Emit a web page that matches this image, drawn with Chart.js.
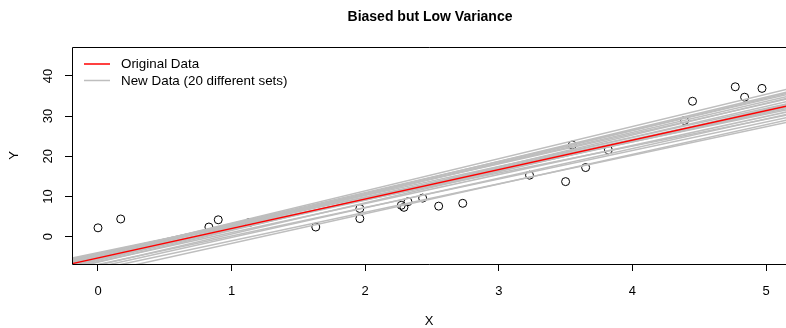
<!DOCTYPE html>
<html>
<head>
<meta charset="utf-8">
<script src="https://cdn.jsdelivr.net/npm/chart.js@4.4.1/dist/chart.umd.min.js"></script>
<style>
  html, body { margin: 0; padding: 0; background: #fff; }
  #wrap { width: 786px; height: 328px; }
</style>
</head>
<body>
<div id="wrap"><canvas id="plot" width="786" height="328"></canvas></div>
<script>
// tick labels
var xTicks = [0, 1, 2, 3, 4, 5];
var yTicks = [0, 10, 20, 30, 40];

var pointX = [0.00, 0.17, 0.83, 0.90, 1.13, 1.63, 1.96, 1.96, 2.27, 2.29, 2.32, 2.43,
              2.55, 2.73, 3.23, 3.50, 3.55, 3.65, 3.82, 4.39, 4.45, 4.77, 4.84, 4.97];
var pointY = [2.2, 4.4, 2.4, 4.2, 3.5, 2.4, 7.0, 4.5, 7.8, 7.3, 8.7, 9.6,
              7.6, 8.3, 15.3, 13.7, 22.8, 17.2, 21.6, 28.9, 33.7, 37.3, 34.7, 36.9];

// fitted line on the original data
var origIntercept = -5.3;
var origSlope = 7.33;

// fitted lines on the 20 new data sets
var newIntercepts = [-3.96, -4.19, -4.34, -4.49, -4.64, -4.20, -4.90, -5.24, -5.57, -5.90,
                     -6.19, -6.36, -6.92, -7.09, -7.56, -8.12, -9.06, -5.10, -4.50, -5.64];
var newSlopes = [6.89, 7.22, 7.48, 7.73, 8.01, 6.68, 7.71, 7.99, 7.33, 7.67,
                 7.22, 7.91, 7.09, 7.75, 7.37, 7.09, 7.39, 7.17, 7.17, 8.01];

var titleText = 'Biased but Low Variance';
var legendLabels = ['Original Data', 'New Data (20 different sets)'];

var FONT = 'Liberation Sans, Arial, Helvetica, sans-serif';
var RED = '#ff0000';
var GRAY = '#bebebe';

function fitLine(a, b){
  return [-0.5, 5.5].map(function(x){ return {x: x, y: a + b * x}; });
}

var datasets = [];
datasets.push({
  type: 'line', label: legendLabels[0], data: fitLine(origIntercept, origSlope),
  borderColor: RED, borderWidth: 1.3, pointRadius: 0, showLine: true, order: 0
});
for (var i = 0; i < newIntercepts.length; i++) {
  datasets.push({
    type: 'line', label: legendLabels[1], data: fitLine(newIntercepts[i], newSlopes[i]),
    borderColor: GRAY, borderWidth: 1.5, pointRadius: 0, showLine: true, order: 1
  });
}
datasets.push({
  type: 'scatter', label: 'points',
  data: pointX.map(function(x, k){ return {x: x, y: pointY[k]}; }),
  borderColor: '#000', backgroundColor: 'rgba(0,0,0,0)', borderWidth: 1,
  pointRadius: 4, pointHoverRadius: 4, order: 2
});

// R style title over the plot region, box (right side is cut off) and legend
var rDecor = {
  id: 'rDecor',
  afterDatasetsDraw: function(chart){
    var ctx = chart.ctx, a = chart.chartArea;
    ctx.save();
    ctx.strokeStyle = '#000';
    ctx.lineWidth = 1;
    ctx.beginPath();
    ctx.moveTo(a.right + 1, a.top + 0.5);
    ctx.lineTo(a.left + 0.5, a.top + 0.5);
    ctx.lineTo(a.left + 0.5, a.bottom + 0.5);
    ctx.lineTo(a.right + 1, a.bottom + 0.5);
    ctx.stroke();

    ctx.fillStyle = '#000';
    ctx.textAlign = 'center';
    ctx.textBaseline = 'middle';
    ctx.font = 'bold 14px ' + FONT;
    ctx.fillText(titleText, (a.left + a.right) / 2 + 1, 17);

    var rows = [{label: legendLabels[0], color: RED},
                {label: legendLabels[1], color: GRAY}];
    ctx.font = '13.4px ' + FONT;
    ctx.textAlign = 'left';
    rows.forEach(function(r, k){
      var y = a.top + 17 + k * 16.5;
      ctx.strokeStyle = r.color;
      ctx.lineWidth = 1.5;
      ctx.beginPath();
      ctx.moveTo(a.left + 12, y);
      ctx.lineTo(a.left + 38, y);
      ctx.stroke();
      ctx.fillStyle = '#000';
      ctx.fillText(r.label, a.left + 49, y + 0.5);
    });
    ctx.restore();
  }
};

var ctx = document.getElementById('plot');
var chart = new Chart(ctx, {
  type: 'scatter',
  data: { datasets: datasets },
  plugins: [rDecor],
  options: {
    responsive: false,
    animation: false,
    devicePixelRatio: 1,
    layout: { autoPadding: false, padding: { left: 0, right: 0, top: 47, bottom: 0 } },
    plugins: {
      legend: { display: false },
      tooltip: { enabled: false },
      title: { display: false }
    },
    scales: {
      x: {
        type: 'linear',
        min: -0.1946,
        max: 5.1497,
        afterBuildTicks: function(scale){
          scale.ticks = xTicks.map(function(v){ return {value: v}; });
        },
        afterFit: function(scale){
          scale.height = 64;
          scale.paddingLeft = 0;
          scale.paddingRight = 0;
        },
        border: { display: false },
        grid: { drawOnChartArea: false, drawTicks: true, tickLength: 7, tickColor: '#000', tickWidth: 1 },
        ticks: { color: '#000', padding: 13, maxRotation: 0, autoSkip: false,
                 font: { family: FONT, size: 13 } },
        title: { display: true, text: 'X', color: '#000',
                 font: { family: FONT, size: 13, lineHeight: 1 }, padding: { top: 0, bottom: 0 } }
      },
      y: {
        type: 'linear',
        min: -6.8,
        max: 47.2,
        afterBuildTicks: function(scale){
          scale.ticks = yTicks.map(function(v){ return {value: v}; });
        },
        afterFit: function(scale){
          scale.width = 72;
          scale.paddingTop = 0;
          scale.paddingBottom = 0;
        },
        border: { display: false },
        grid: { drawOnChartArea: false, drawTicks: true, tickLength: 7, tickColor: '#000', tickWidth: 1 },
        ticks: { color: '#000', padding: 9.5, minRotation: 90, maxRotation: 90,
                 crossAlign: 'center', autoSkip: false,
                 font: { family: FONT, size: 13 } },
        title: { display: true, text: 'Y', color: '#000',
                 font: { family: FONT, size: 13, lineHeight: 1 }, padding: { top: 8, bottom: 0 } }
      }
    }
  }
});
</script>
</body>
</html>
